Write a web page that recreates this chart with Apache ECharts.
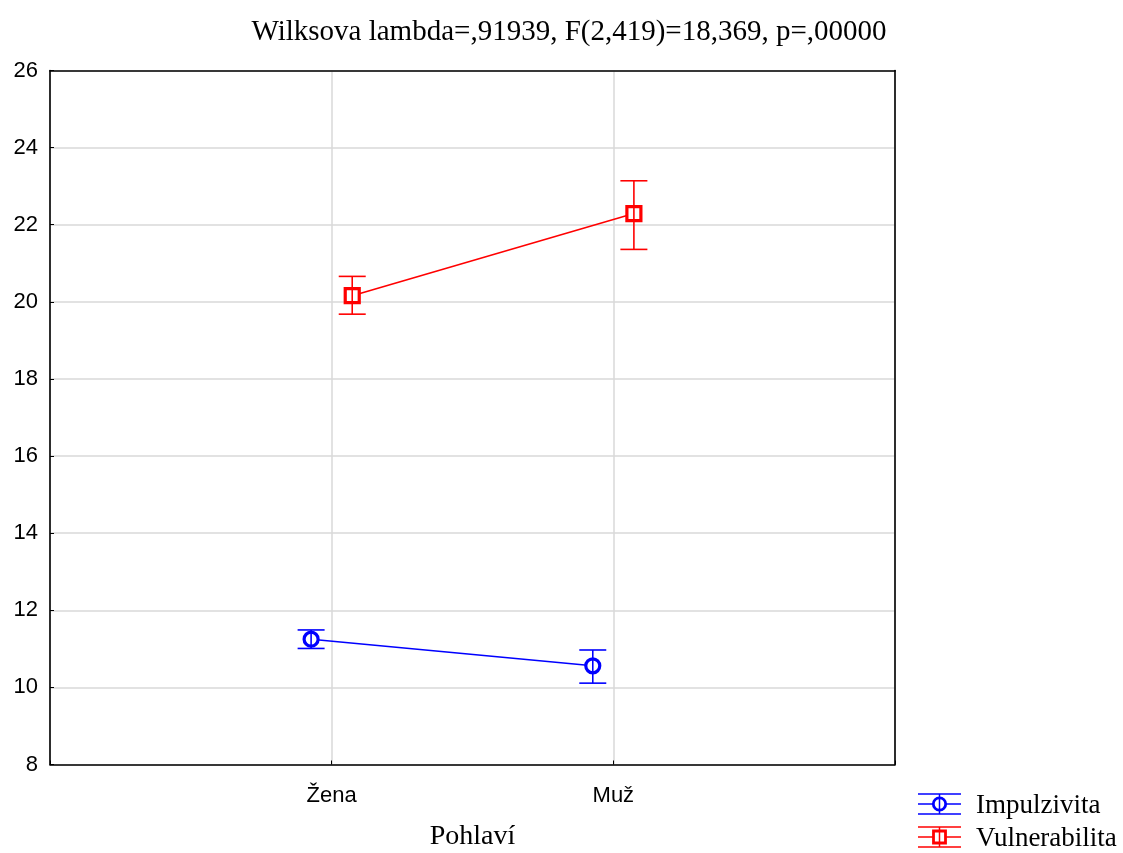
<!DOCTYPE html>
<html>
<head>
<meta charset="utf-8">
<script src="https://cdn.jsdelivr.net/npm/echarts@6/dist/echarts.min.js"></script>
<style>html,body{margin:0;padding:0;background:#fff}#c{width:1123px;height:853px}</style>
</head>
<body>
<div id="c"></div>
<script>
const categories = ['Žena', 'Muž'];
const seriesNames = ['Impulzivita', 'Vulnerabilita'];
const impMean = [11.25, 10.56];
const impLow = [11.01, 10.11];
const impHigh = [11.49, 10.97];
const vulMean = [20.16, 22.29];
const vulLow = [19.68, 21.36];
const vulHigh = [20.66, 23.14];
const yMin = 8, yMax = 26, yStep = 2;
const titleText = 'Wilksova lambda=,91939, F(2,419)=18,369, p=,00000';
const xName = 'Pohlaví';

const BLUE = '#0000ff', RED = '#ff0000';
const OFF = 0.073;
const serif = '"Liberation Serif", "Times New Roman", serif';
const sans = '"Liberation Sans", Arial, sans-serif';

function pts(means, off) { return means.map((v, i) => [i + 1 + off, v]); }
function errs(lows, highs, off) { return lows.map((l, i) => [i + 1 + off, l, highs[i]]); }

function errRender(color) {
  return function (params, api) {
    const x = api.value(0);
    const a = api.coord([x, api.value(1)]);
    const b = api.coord([x, api.value(2)]);
    const hw = 13.5;
    const st = { stroke: color, lineWidth: 1.6 };
    return { type: 'group', children: [
      { type: 'line', shape: { x1: a[0], y1: a[1], x2: b[0], y2: b[1] }, style: st },
      { type: 'line', shape: { x1: a[0] - hw, y1: a[1], x2: a[0] + hw, y2: a[1] }, style: st },
      { type: 'line', shape: { x1: b[0] - hw, y1: b[1], x2: b[0] + hw, y2: b[1] }, style: st }
    ]};
  };
}

const chart = echarts.init(document.getElementById('c'));

function legendItem(y, color, shape, name) {
  const x0 = 918, x1 = 961, cx = 939.5;
  const st = { stroke: color, lineWidth: 1.5 };
  const marker = shape === 'circle'
    ? { type: 'circle', shape: { cx: cx, cy: y, r: 6.2 }, style: { stroke: color, lineWidth: 2.8, fill: '#fff' } }
    : { type: 'rect', shape: { x: cx - 6, y: y - 6, width: 12, height: 12 }, style: { stroke: color, lineWidth: 2.8, fill: '#fff' } };
  return [
    { type: 'line', shape: { x1: x0, y1: y - 10, x2: x1, y2: y - 10 }, style: st },
    { type: 'line', shape: { x1: x0, y1: y, x2: x1, y2: y }, style: st },
    { type: 'line', shape: { x1: x0, y1: y + 10, x2: x1, y2: y + 10 }, style: st },
    marker,
    { type: 'line', shape: { x1: cx, y1: y - 10, x2: cx, y2: y + 10 }, style: st },
    { type: 'text', x: 976, y: y + 2, style: { text: name, font: '27px ' + serif, fill: '#000', verticalAlign: 'middle', align: 'left' } }
  ];
}

const axisBlack = { show: true, onZero: false, lineStyle: { color: '#000', width: 1.6 } };

chart.setOption({
  animation: false,
  backgroundColor: '#fff',
  title: {
    text: titleText, left: 564, top: 13, textAlign: 'center',
    textStyle: { fontFamily: serif, fontSize: 29, fontWeight: 'normal', color: '#000' }
  },
  grid: { left: 50, top: 70.5, right: 228, bottom: 88.5, show: false, containLabel: false, outerBoundsMode: 'none' },
  xAxis: [{
    type: 'value', min: 0, max: categories.length + 1, interval: 1,
    name: xName, nameLocation: 'middle', nameGap: 58,
    nameTextStyle: { fontFamily: serif, fontSize: 28, color: '#000' },
    axisLine: axisBlack,
    axisTick: { show: true, inside: true, length: 4, lineStyle: { color: '#000' } },
    axisLabel: { margin: 20, fontFamily: sans, fontSize: 22, color: '#000',
      formatter: v => (v >= 1 && v <= categories.length) ? categories[v - 1] : '' },
    splitLine: { show: true, lineStyle: { color: '#d9d9d9', width: 1.5 } }
  }, {
    type: 'value', position: 'top', min: 0, max: categories.length + 1, interval: 1,
    axisLine: axisBlack, axisTick: { show: false }, axisLabel: { show: false }, splitLine: { show: false }, z: 10
  }],
  yAxis: [{
    type: 'value', min: yMin, max: yMax, interval: yStep,
    axisLine: axisBlack,
    axisTick: { show: true, inside: true, length: 4, lineStyle: { color: '#000' } },
    axisLabel: { margin: 12, fontFamily: sans, fontSize: 22, color: '#000' },
    splitLine: { show: true, lineStyle: { color: '#d9d9d9', width: 1.5 } }
  }, {
    type: 'value', position: 'right', min: yMin, max: yMax, interval: yStep,
    axisLine: axisBlack, axisTick: { show: false }, axisLabel: { show: false }, splitLine: { show: false }, z: 10
  }],
  series: [
    { name: seriesNames[0], type: 'line', data: pts(impMean, -OFF), symbol: 'circle', symbolSize: 14,
      lineStyle: { color: BLUE, width: 1.6 }, itemStyle: { color: '#fff', borderColor: BLUE, borderWidth: 3.2 }, z: 3 },
    { name: seriesNames[1], type: 'line', data: pts(vulMean, OFF), symbol: 'rect', symbolSize: 14,
      lineStyle: { color: RED, width: 1.6 }, itemStyle: { color: '#fff', borderColor: RED, borderWidth: 3.2 }, z: 3 },
    { type: 'custom', data: errs(impLow, impHigh, -OFF), renderItem: errRender(BLUE), z: 5, silent: true },
    { type: 'custom', data: errs(vulLow, vulHigh, OFF), renderItem: errRender(RED), z: 5, silent: true }
  ],
  graphic: [
    ...legendItem(804, BLUE, 'circle', seriesNames[0]),
    ...legendItem(837, RED, 'rect', seriesNames[1])
  ]
});
</script>
</body>
</html>
